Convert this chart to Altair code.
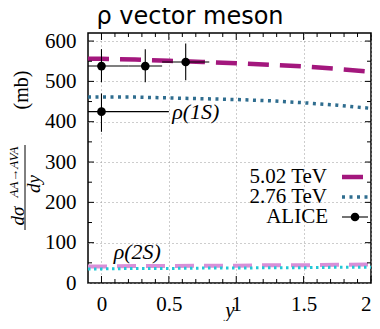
import altair as alt
import pandas as pd

# ---------------- data ----------------
rap = [-0.1, 0.0, 0.25, 0.5, 0.75, 1.0, 1.25, 1.5, 1.75, 2.0]
rho1s_502 = [556, 556, 554, 551, 548, 545, 541, 537, 531, 524]
rho1s_276 = [461, 461, 461, 459, 457, 455, 452, 447, 441, 433]
rho2s_502 = [41, 41, 42, 42, 43, 43, 44, 44, 45, 46]
rho2s_276 = [35, 35, 36, 36, 37, 37, 38, 38, 39, 39]

alice_y = [0.0, 0.325, 0.625, 0.0]
alice_xlo = [-0.2, 0.2, 0.45, -0.5]
alice_xhi = [0.2, 0.45, 0.8, 0.5]
alice_val = [538, 538, 548, 425]
alice_lo = [498, 498, 503, 375]
alice_hi = [580, 580, 594, 470]

x_major = [0, 0.5, 1, 1.5, 2]
x_minor = [0.1, 0.2, 0.3, 0.4, 0.6, 0.7, 0.8, 0.9, 1.1, 1.2, 1.3, 1.4,
           1.6, 1.7, 1.8, 1.9]
y_major = [100, 200, 300, 400, 500, 600]
y_minor = [50, 150, 250, 350, 450, 550]

W, H = 283, 250
SERIF = "Liberation Serif"

xs = alt.Scale(domain=[-0.1, 2.0], nice=False, zero=False)
ys = alt.Scale(domain=[0, 620], nice=False, zero=False)

x_axis = alt.Axis(values=x_major, grid=True, gridDash=[1, 3],
                  gridColor="#9a9a9a", gridWidth=1, ticks=False,
                  domain=False, labelFont=SERIF, labelFontSize=21,
                  labelColor="black", labelPadding=10, title=None,
                  format=".1~f")
y_axis = alt.Axis(values=[0] + y_major, grid=True, gridDash=[1, 3],
                  gridColor="#9a9a9a", gridWidth=1, ticks=False,
                  domain=False, labelFont=SERIF, labelFontSize=21,
                  labelColor="black", labelPadding=12, title=None)


def X(field):
    return alt.X(field, scale=xs, axis=x_axis)


def Y(field):
    return alt.Y(field, scale=ys, axis=y_axis)


def line(vals, color, dash, width):
    df = pd.DataFrame({"y": rap, "v": vals})
    return alt.Chart(df).mark_line(
        color=color, strokeDash=dash, strokeWidth=width, clip=True
    ).encode(x=X("y:Q"), y=Y("v:Q"))


l2s502 = line(rho2s_502, "#d98fd8", [19, 10], 4)
l2s276 = line(rho2s_276, "#22c8d6", [2.5, 3.5], 3)
l502 = line(rho1s_502, "#a3177d", [21, 11], 4.5)
l276 = line(rho1s_276, "#2f6d8f", [3, 4.5], 3.5)

adf = pd.DataFrame({"x": alice_y, "xlo": alice_xlo, "xhi": alice_xhi,
                    "v": alice_val, "lo": alice_lo, "hi": alice_hi})
a_h = alt.Chart(adf).mark_rule(color="black", strokeWidth=1.1, clip=True).encode(
    x=X("xlo:Q"), x2="xhi:Q", y=Y("v:Q"))
a_v = alt.Chart(adf).mark_rule(color="black", strokeWidth=1.1, clip=True).encode(
    x=X("x:Q"), y=Y("lo:Q"), y2="hi:Q")
a_p = alt.Chart(adf).mark_circle(color="black", size=75, opacity=1).encode(
    x=X("x:Q"), y=Y("v:Q"))


# inward ticks on all four sides
def xticks(vals, length):
    d = pd.DataFrame({"t": vals})
    bot = alt.Chart(d).mark_rule(color="black", strokeWidth=1).encode(
        x=X("t:Q"), y=alt.value(H), y2=alt.value(H - length))
    top = alt.Chart(d).mark_rule(color="black", strokeWidth=1).encode(
        x=X("t:Q"), y=alt.value(0), y2=alt.value(length))
    return [bot, top]


def yticks(vals, length):
    d = pd.DataFrame({"t": vals})
    left = alt.Chart(d).mark_rule(color="black", strokeWidth=1).encode(
        y=Y("t:Q"), x=alt.value(0), x2=alt.value(length))
    right = alt.Chart(d).mark_rule(color="black", strokeWidth=1).encode(
        y=Y("t:Q"), x=alt.value(W), x2=alt.value(W - length))
    return [left, right]


tick_layers = (xticks(x_major, 7) + xticks(x_minor, 4)
               + yticks(y_major, 6) + yticks(y_minor, 4))

# curve labels
lab_df = pd.DataFrame({"x": [0.70, 0.266], "v": [423, 76],
                       "t": ["ρ(1S)", "ρ(2S)"]})
labels = alt.Chart(lab_df).mark_text(font=SERIF, fontSize=22, fontStyle="italic",
                                     color="black", align="center",
                                     baseline="middle").encode(
    x=X("x:Q"), y=Y("v:Q"), text="t:N")

one = alt.Data(values=[{}])


def ptext(txt, x, y, size, font=SERIF, style="normal", align="center",
          baseline="middle", angle=0):
    return alt.Chart(one).mark_text(
        text=txt, font=font, fontSize=size, fontStyle=style, align=align,
        baseline=baseline, angle=angle, color="black"
    ).encode(x=alt.value(x), y=alt.value(y))


def prule(x, x2, y, y2, color="black", width=1.0, dash=None):
    kw = dict(color=color, strokeWidth=width)
    if dash:
        kw["strokeDash"] = dash
    return alt.Chart(one).mark_rule(**kw).encode(
        x=alt.value(x), x2=alt.value(x2), y=alt.value(y), y2=alt.value(y2))


# legend (drawn by hand, symbols right of labels)
leg = [
    ptext("5.02 TeV", 239, 144, 21, align="right"),
    ptext("2.76 TeV", 239, 164, 21, align="right"),
    ptext("ALICE", 240, 184, 21, align="right"),
    prule(254, 275, 144, 144, color="#a3177d", width=4.5),
    prule(254, 281, 164, 164, color="#2f6d8f", width=3.5, dash=[3, 4.5]),
    prule(254, 280, 184, 184, color="black", width=1.1),
    alt.Chart(one).mark_circle(color="black", size=75, opacity=1).encode(
        x=alt.value(267), y=alt.value(184)),
]

# titles
titles = [
    ptext("ρ vector meson", 102, -9, 24, font="DejaVu Sans",
          baseline="alphabetic"),
    ptext("y", 142, 284, 21, style="italic", baseline="alphabetic"),
    ptext("(mb)", -66, 57, 20, angle=270),
    ptext("AA→AVA", -74, 139, 13, style="italic", angle=270),
    ptext("dσ", -70, 183, 19, style="italic", angle=270),
    ptext("dy", -54, 151, 19, style="italic", angle=270),
    prule(-63, -63, 112, 197, width=1),
]

chart = alt.layer(
    l2s502, l2s276, l502, l276, a_h, a_v, a_p, labels,
    *tick_layers, *leg, *titles
).properties(
    width=W, height=H,
    autosize=alt.AutoSizeParams(type="none"),
    padding={"left": 80, "top": 25, "right": 1, "bottom": 38},
).configure_view(stroke="black", strokeWidth=1.5)

chart.save("out.html", embed_options={"renderer": "svg", "actions": False})
